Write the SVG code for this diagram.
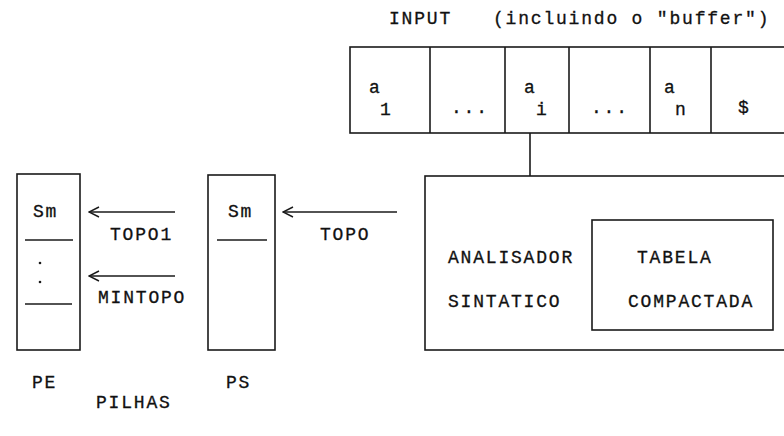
<svg xmlns="http://www.w3.org/2000/svg" width="784" height="436" viewBox="0 0 784 436">
<defs>
<style>
text{font-family:"Liberation Mono","DejaVu Sans Mono",monospace;font-size:18px;letter-spacing:1.8px;fill:#111;stroke:#111;stroke-width:0.3}
.b{fill:none;stroke:#1a1a1a;stroke-width:1.6}
.l{stroke:#1a1a1a;stroke-width:1.6;fill:none}
</style>
<marker id="chev" viewBox="0 0 12 12" refX="11" refY="6" markerWidth="12" markerHeight="12" markerUnits="userSpaceOnUse" orient="auto">
<path d="M1,1 L11,6 L1,11" fill="none" stroke="#1a1a1a" stroke-width="1.4"/>
</marker>
</defs>
<rect width="784" height="436" fill="#fff"/>
<text x="389" y="24">INPUT</text>
<text x="493" y="24">(incluindo o "buffer")</text>
<g id="input">
<rect class="b" x="350" y="47" width="460" height="86"/>
<line class="l" x1="430" y1="47" x2="430" y2="133"/>
<line class="l" x1="505" y1="47" x2="505" y2="133"/>
<line class="l" x1="569" y1="47" x2="569" y2="133"/>
<line class="l" x1="650" y1="47" x2="650" y2="133"/>
<line class="l" x1="711" y1="47" x2="711" y2="133"/>
<text x="369" y="93">a</text><text x="380" y="115">1</text>
<text x="451" y="113">...</text>
<text x="524" y="93">a</text><text x="536" y="115">i</text>
<text x="591" y="113">...</text>
<text x="664" y="93">a</text><text x="675" y="115">n</text>
<text x="738" y="113">$</text>
</g>
<g id="analisador">
<rect class="b" x="425" y="176" width="380" height="174"/>
<text x="448" y="263">ANALISADOR</text>
<text x="448" y="307">SINTATICO</text>
</g>
<g id="tabela">
<rect class="b" x="592" y="220" width="181" height="110"/>
<text x="637" y="263">TABELA</text>
<text x="628" y="307">COMPACTADA</text>
</g>
<g id="pe">
<rect class="b" x="17" y="174" width="63" height="176"/>
<text x="33" y="217">Sm</text>
<line class="l" x1="25" y1="240" x2="73" y2="240"/>
<circle cx="40" cy="263" r="1.3" fill="#1a1a1a"/>
<circle cx="40" cy="282" r="1.3" fill="#1a1a1a"/>
<line class="l" x1="25" y1="304" x2="72" y2="304"/>
<text x="32" y="388">PE</text>
</g>
<g id="ps">
<rect class="b" x="208" y="175" width="67" height="175"/>
<text x="228" y="217">Sm</text>
<line class="l" x1="217" y1="240" x2="267" y2="240"/>
<text x="226" y="388">PS</text>
</g>
<text x="96" y="408">PILHAS</text>
<g id="connectors">
<line class="l" x1="530" y1="133" x2="530" y2="176"/>
<line class="l" x1="175" y1="212" x2="89" y2="212" marker-end="url(#chev)"/>
<line class="l" x1="175" y1="276" x2="89" y2="276" marker-end="url(#chev)"/>
<line class="l" x1="397" y1="212" x2="283" y2="212" marker-end="url(#chev)"/>
<text x="110" y="240">TOPO1</text>
<text x="98" y="303">MINTOPO</text>
<text x="320" y="240">TOPO</text>
</g>
</svg>
